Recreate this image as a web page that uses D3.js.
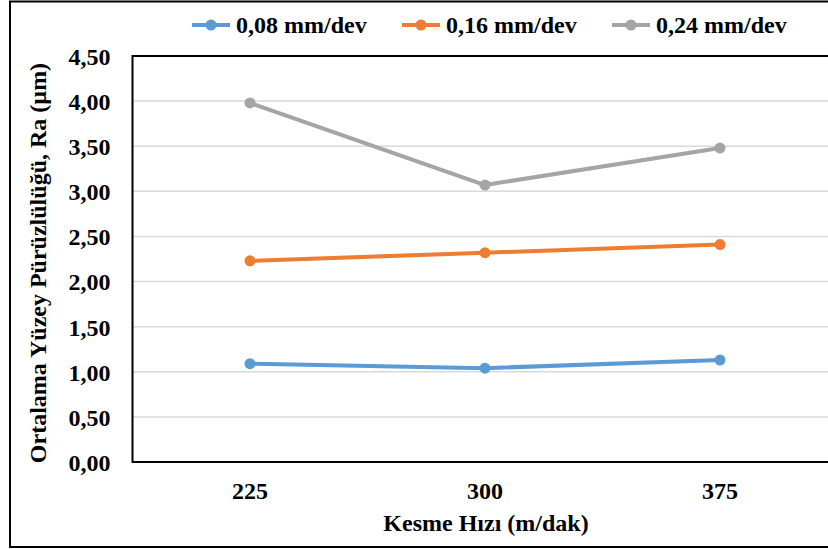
<!DOCTYPE html>
<html>
<head>
<meta charset="utf-8">
<title>Ra</title>
<style>
  body { margin: 0; background: #fff; }
  svg text { font-family: "Liberation Serif", "Times New Roman", Tinos, "DejaVu Serif", serif !important; font-weight: bold; fill: #000; }
</style>
</head>
<body>
<svg width="828" height="549"></svg>
<script src="https://d3js.org/d3.v7.min.js"></script>
<script>
const speeds = ["225", "300", "375"];
const seriesNames = ["0,08 mm/dev", "0,16 mm/dev", "0,24 mm/dev"];
const feed008 = [1.09, 1.04, 1.13];
const feed016 = [2.23, 2.32, 2.41];
const feed024 = [3.98, 3.07, 3.48];
const yTicks = [0, 0.5, 1, 1.5, 2, 2.5, 3, 3.5, 4, 4.5];
const colors = ["#5B9BD5", "#ED7D31", "#A5A5A5"];

const series = [feed008, feed016, feed024].map((v, i) => ({ name: seriesNames[i], values: v, color: colors[i] }));

const svg = d3.select("svg");
const plotLeft = 132.5, plotTop = 56, plotBottom = 462, bandW = 235;
const plotRight = plotLeft + bandW * speeds.length;
const serif = '"Liberation Serif", "Times New Roman", serif';

// outer border
svg.append("rect")
  .attr("x", 10).attr("y", 1.5).attr("width", 830).attr("height", 545.5)
  .attr("fill", "none").attr("stroke", "#000").attr("stroke-width", 2);

const x = d3.scaleBand().domain(speeds).range([plotLeft, plotRight]);
const y = d3.scaleLinear().domain([0, 4.5]).range([plotBottom, plotTop]);

// grid
svg.append("g")
  .selectAll("line")
  .data(yTicks.slice(1, -1))
  .join("line")
  .attr("x1", plotLeft).attr("x2", plotRight)
  .attr("y1", d => y(d)).attr("y2", d => y(d))
  .attr("stroke", "#d9d9d9").attr("stroke-width", 1.5);

// plot frame
svg.append("rect")
  .attr("x", plotLeft).attr("y", plotTop).attr("width", plotRight - plotLeft).attr("height", plotBottom - plotTop)
  .attr("fill", "none").attr("stroke", "#000").attr("stroke-width", 2);

// y axis labels
const fmt = d => d.toFixed(2).replace(".", ",");
const yAxis = d3.axisLeft(y).tickValues(yTicks).tickFormat(fmt).tickSize(0).tickPadding(22);
const gy = svg.append("g").attr("transform", `translate(${plotLeft},0)`).call(yAxis)
  .attr("font-family", serif).attr("font-size", 24);
gy.select(".domain").remove();
gy.selectAll("text").attr("dy", "0.35em");

// x axis labels
const xAxis = d3.axisBottom(x).tickSize(0).tickPadding(20);
const gx = svg.append("g").attr("transform", `translate(0,${plotBottom})`).call(xAxis)
  .attr("font-family", serif).attr("font-size", 24);
gx.select(".domain").remove();
gx.selectAll("text").attr("dy", "0.71em");

// titles
svg.append("text")
  .attr("x", 486).attr("y", 531)
  .attr("text-anchor", "middle").attr("font-family", serif).attr("font-size", 24)
  .text("Kesme Hızı (m/dak)");

svg.append("text")
  .attr("transform", `translate(46,${(plotTop + plotBottom) / 2 + 4}) rotate(-90)`)
  .attr("text-anchor", "middle").attr("font-family", serif).attr("font-size", 24)
  .text("Ortalama Yüzey Pürüzlülüğü, Ra (µm)");

// lines
const line = d3.line()
  .x((d, i) => x(speeds[i]) + x.bandwidth() / 2)
  .y(d => y(d));

const sg = svg.append("g").selectAll("g").data(series).join("g");
sg.append("path")
  .attr("d", d => line(d.values))
  .attr("fill", "none").attr("stroke", d => d.color)
  .attr("stroke-width", 4).attr("stroke-linejoin", "round");
sg.selectAll("circle")
  .data(d => d.values.map((v, i) => ({ v, i, color: d.color })))
  .join("circle")
  .attr("cx", d => x(speeds[d.i]) + x.bandwidth() / 2)
  .attr("cy", d => y(d.v))
  .attr("r", 5.5).attr("fill", d => d.color);

// legend
const legendX = [192, 402, 612];
const lg = svg.append("g").selectAll("g").data(series).join("g")
  .attr("transform", (d, i) => `translate(${legendX[i]},25)`);
lg.append("line").attr("x1", 0).attr("x2", 38).attr("y1", 0).attr("y2", 0)
  .attr("stroke", d => d.color).attr("stroke-width", 4);
lg.append("circle").attr("cx", 19).attr("cy", 0).attr("r", 5.5).attr("fill", d => d.color);
lg.append("text").attr("x", 44).attr("y", 0).attr("dy", "0.35em")
  .attr("font-family", serif).attr("font-size", 24).text(d => d.name);
</script>
</body>
</html>
